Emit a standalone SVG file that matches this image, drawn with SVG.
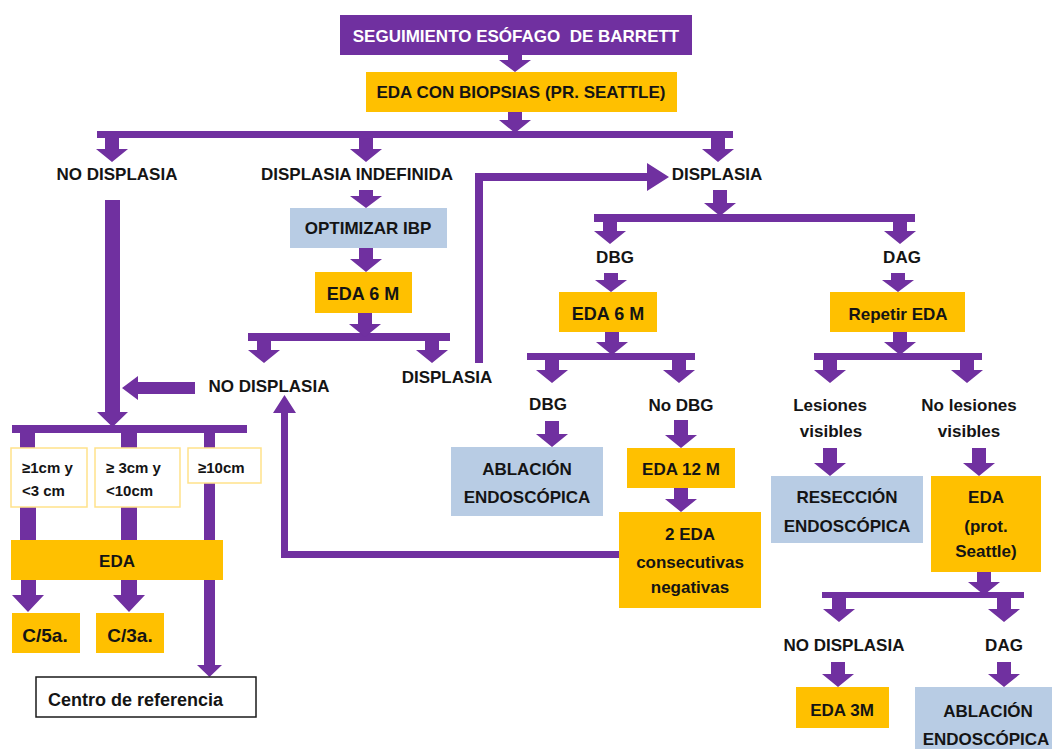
<svg xmlns="http://www.w3.org/2000/svg" width="1052" height="749" viewBox="0 0 1052 749">
<style>
.t{font-family:"Liberation Sans",Arial,sans-serif;font-weight:bold;font-size:17px;fill:#141414;text-anchor:middle}
.w{fill:#ffffff}
.s15{font-size:15px;text-anchor:start}
.s18{font-size:18px}
.s19{font-size:19px}
.pur{fill:#7030A0}
.yel{fill:#FFC000}
.blu{fill:#B8CCE4}
.cm{fill:#ffffff;stroke:#FFE28A;stroke-width:1.5}
.ref{fill:#ffffff;stroke:#1a1a1a;stroke-width:1.5}
.c{fill:#7030A0;stroke:none}
</style>
<rect width="1052" height="749" fill="#ffffff"/>
<g id="connectors">
<rect class="c" x="97" y="131" width="636" height="7"/>
<rect class="c" x="248" y="333" width="202" height="8"/>
<rect class="c" x="594" y="214" width="321" height="8"/>
<rect class="c" x="527" y="353" width="168" height="7"/>
<rect class="c" x="814" y="353" width="168" height="7"/>
<rect class="c" x="822" y="592" width="202" height="6"/>
<rect class="c" x="12" y="425" width="235" height="8"/>
<rect class="c" x="20" y="433" width="15" height="15"/>
<rect class="c" x="121" y="433" width="16" height="15"/>
<rect class="c" x="204" y="433" width="11" height="15"/>
<rect class="c" x="20" y="507" width="16" height="33"/>
<rect class="c" x="121" y="507" width="16" height="33"/>
<path class="c" d="M508 55H522V60H531L515 72L499 60H508Z"/>
<path class="c" d="M508 112H522V120H531L515 133L499 120H508Z"/>
<path class="c" d="M105 138H119V149H128L112 162L96 149H105Z"/>
<path class="c" d="M359 138H373V149H382L366 162L350 149H359Z"/>
<path class="c" d="M711 138H725V149H734L718 162L702 149H711Z"/>
<path class="c" d="M359 190H373V196H382L366 208L350 196H359Z"/>
<path class="c" d="M359 248H373V259H382L366 272L350 259H359Z"/>
<path class="c" d="M358 313H372V324H381L365 337L349 324H358Z"/>
<path class="c" d="M257 341H271V350H280L264 363L248 350H257Z"/>
<path class="c" d="M425 341H439V350H448L432 363L416 350H425Z"/>
<path class="c" d="M713 190H727V203H736L720 216L704 203H713Z"/>
<path class="c" d="M603 222H617V231H626L610 244L594 231H603Z"/>
<path class="c" d="M893 222H907V231H916L900 244L884 231H893Z"/>
<path class="c" d="M604 273H618V280H627L611 292L595 280H604Z"/>
<path class="c" d="M891 273H905V280H914L898 292L882 280H891Z"/>
<path class="c" d="M605 332H619V342H628L612 355L596 342H605Z"/>
<path class="c" d="M893 332H907V342H916L900 355L884 342H893Z"/>
<path class="c" d="M545 360H559V370H568L552 383L536 370H545Z"/>
<path class="c" d="M672 360H686V370H695L679 383L663 370H672Z"/>
<path class="c" d="M823 360H837V370H846L830 383L814 370H823Z"/>
<path class="c" d="M960 360H974V370H983L967 383L951 370H960Z"/>
<path class="c" d="M545 421H559V434H568L552 447L536 434H545Z"/>
<path class="c" d="M674 420H688V435H697L681 448L665 435H674Z"/>
<path class="c" d="M674 488H688V499H697L681 512L665 499H674Z"/>
<path class="c" d="M823 448H837V463H846L830 476L814 463H823Z"/>
<path class="c" d="M972 448H986V463H995L979 476L963 463H972Z"/>
<path class="c" d="M977 572H991V582H1000L984 595L968 582H977Z"/>
<path class="c" d="M832 598H846V609H855L839 622L823 609H832Z"/>
<path class="c" d="M997 598H1011V609H1020L1004 622L988 609H997Z"/>
<path class="c" d="M831 662H845V674H854L838 687L822 674H831Z"/>
<path class="c" d="M997 662H1011V674H1020L1004 687L988 674H997Z"/>
<path class="c" d="M21 580H36V595H44L28 612L12 595H21Z"/>
<path class="c" d="M121 580H137V595H145L129 612L113 595H121Z"/>
<path class="c" d="M105 200H120V412H128L112.5 427L97 412H105Z"/>
<path class="c" d="M204 483H215V665H222L209.5 677L197 665H204Z"/>
<path class="c" d="M195 382V394H138V400L122 388L138 376V382Z"/>
<path class="c" d="M475 363V173H647V163L669 177L647 191V181H483V363Z"/>
<path class="c" d="M619 551H288V413H296L284.5 395L273 413H281V558H619Z"/>
</g>
<g id="n-title"><rect class="pur" x="340" y="15" width="352" height="40"/><text class="t w" x="516" y="42">SEGUIMIENTO ESÓFAGO&#160; DE BARRETT</text></g>
<g id="n-biopsias"><rect class="yel" x="366" y="72" width="311" height="40"/><text class="t" x="521" y="98">EDA CON BIOPSIAS (PR. SEATTLE)</text></g>
<g id="n-nodisp"><text class="t" x="117" y="180">NO DISPLASIA</text></g>
<g id="n-indef"><text class="t" x="357" y="180">DISPLASIA INDEFINIDA</text></g>
<g id="n-disp"><text class="t" x="717" y="180">DISPLASIA</text></g>
<g id="n-ibp"><rect class="blu" x="290" y="208" width="157" height="40"/><text class="t" x="368" y="234">OPTIMIZAR IBP</text></g>
<g id="n-eda6a"><rect class="yel" x="315" y="272" width="97" height="41"/><text class="t s18" x="363" y="300">EDA 6 M</text></g>
<g id="n-nodisp2"><text class="t" x="269" y="392">NO DISPLASIA</text></g>
<g id="n-disp2"><text class="t" x="447" y="383">DISPLASIA</text></g>
<g id="n-len1"><rect class="cm" x="11" y="448" width="76" height="59"/><text class="t s15" x="22" y="473">≥1cm y</text><text class="t s15" x="22" y="496">&lt;3 cm</text></g>
<g id="n-len2"><rect class="cm" x="95" y="448" width="85" height="59"/><text class="t s15" x="106" y="473">≥ 3cm y</text><text class="t s15" x="106" y="496">&lt;10cm</text></g>
<g id="n-len3"><rect class="cm" x="188" y="448" width="73" height="35"/><text class="t s15" x="198" y="473">≥10cm</text></g>
<g id="n-eda"><rect class="yel" x="11" y="540" width="212" height="40"/><text class="t" x="117" y="567">EDA</text></g>
<g id="n-c5"><rect class="yel" x="12" y="613" width="68" height="40"/><text class="t s19" x="45" y="642">C/5a.</text></g>
<g id="n-c3"><rect class="yel" x="96" y="613" width="68" height="40"/><text class="t s19" x="130" y="642">C/3a.</text></g>
<g id="n-centro"><rect class="ref" x="36" y="677" width="220" height="40"/><text class="t s18" x="48" y="706" style="text-anchor:start">Centro de referencia</text></g>
<g id="n-dbg"><text class="t" x="615" y="263">DBG</text></g>
<g id="n-dag"><text class="t" x="902" y="263">DAG</text></g>
<g id="n-eda6b"><rect class="yel" x="559" y="292" width="98" height="40"/><text class="t s18" x="608" y="320">EDA 6 M</text></g>
<g id="n-repetir"><rect class="yel" x="830" y="292" width="135" height="40"/><text class="t" x="898" y="320">Repetir EDA</text></g>
<g id="n-dbg2"><text class="t" x="548" y="410">DBG</text></g>
<g id="n-nodbg"><text class="t" x="681" y="411">No DBG</text></g>
<g id="n-les"><text class="t" x="830" y="411">Lesiones</text><text class="t" x="831" y="437">visibles</text></g>
<g id="n-noles"><text class="t" x="969" y="411">No lesiones</text><text class="t" x="969" y="437">visibles</text></g>
<g id="n-abl1"><rect class="blu" x="451" y="447" width="152" height="69"/><text class="t" x="527" y="475">ABLACIÓN</text><text class="t" x="527" y="503">ENDOSCÓPICA</text></g>
<g id="n-eda12"><rect class="yel" x="627" y="448" width="108" height="40"/><text class="t" x="681" y="475">EDA 12 M</text></g>
<g id="n-2eda"><rect class="yel" x="619" y="512" width="142" height="96"/><text class="t" x="690" y="540">2 EDA</text><text class="t" x="690" y="568">consecutivas</text><text class="t" x="690" y="593">negativas</text></g>
<g id="n-resec"><rect class="blu" x="771" y="476" width="152" height="67"/><text class="t" x="847" y="503">RESECCIÓN</text><text class="t" x="847" y="532">ENDOSCÓPICA</text></g>
<g id="n-edaprot"><rect class="yel" x="931" y="476" width="110" height="96"/><text class="t" x="986" y="503">EDA</text><text class="t" x="986" y="532">(prot.</text><text class="t" x="986" y="557">Seattle)</text></g>
<g id="n-nodisp3"><text class="t" x="844" y="651">NO DISPLASIA</text></g>
<g id="n-dag2"><text class="t" x="1004" y="651">DAG</text></g>
<g id="n-eda3"><rect class="yel" x="796" y="687" width="93" height="41"/><text class="t" x="842" y="716">EDA 3M</text></g>
<g id="n-abl2"><rect class="blu" x="915" y="687" width="145" height="62"/><text class="t" x="988" y="717">ABLACIÓN</text><text class="t" x="986" y="745">ENDOSCÓPICA</text></g>
</svg>
